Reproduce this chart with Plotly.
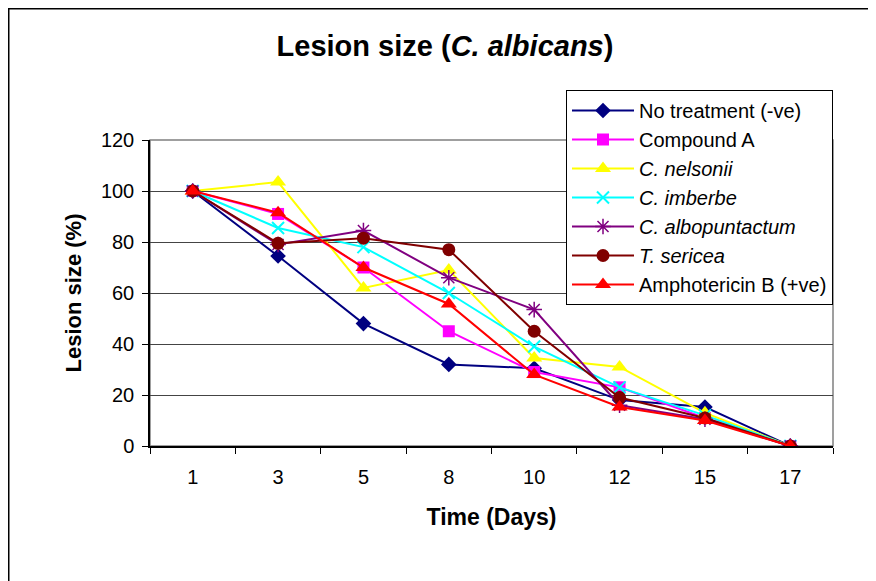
import plotly.graph_objects as go

days = ["1", "3", "5", "8", "10", "12", "15", "17"]
no_treatment = [100, 74.5, 48, 32, 30.5, 18, 15.3, 0]
compound_a = [100, 91, 70, 45, 29, 23, 11, 0]
c_nelsonii = [100, 103.5, 62, 69, 34.5, 31, 13, 0]
c_imberbe = [100, 85.5, 78, 60, 39, 23, 12, 0]
c_albopuntactum = [100, 79, 84.5, 66, 53.5, 16, 10.5, 0]
t_sericea = [100, 79.5, 81.5, 77, 45, 19, 11, 0]
amphotericin_b = [100, 91.5, 70, 55.7, 28, 15.3, 10, 0]

series = [
    ("No treatment (-ve)", no_treatment, "#000080", "diamond", 12, {}),
    ("Compound A", compound_a, "#FF00FF", "square", 12, {}),
    ("<i>C. nelsonii</i>", c_nelsonii, "#FFFF00", "triangle-up", 14, {}),
    ("<i>C. imberbe</i>", c_imberbe, "#00FFFF", "x-thin-open", 12, {"width": 2, "color": "#00FFFF"}),
    ("<i>C. albopuntactum</i>", c_albopuntactum, "#800080", "asterisk-open", 13, {"width": 1.5, "color": "#800080"}),
    ("<i>T. sericea</i>", t_sericea, "#800000", "circle", 13, {}),
    ("Amphotericin B (+ve)", amphotericin_b, "#FF0000", "triangle-up", 14, {}),
]

fig = go.Figure()
for name, vals, color, sym, size, mline in series:
    marker = dict(symbol=sym, size=size, color=color)
    if mline:
        marker["line"] = mline
    fig.add_trace(go.Scatter(
        x=days, y=vals, name=name, mode="lines+markers",
        line=dict(color=color, width=2), marker=marker,
    ))

# page has an 8px body margin; positions below are in figure pixels
L, R, T, B = 142, 825, 132, 438
W, H = 876, 581
pw, ph = R - L, B - T

fig.update_layout(
    width=W, height=H,
    margin=dict(l=L, r=W - R, t=T, b=H - B),
    paper_bgcolor="white", plot_bgcolor="white",
    font=dict(family="Liberation Sans, Arial, sans-serif", color="black"),
    title=dict(text="<b>Lesion size (<i>C. albicans</i>)</b>", x=437 / W, xanchor="center",
               y=1 - 38 / H, yanchor="middle", font=dict(size=29)),
    showlegend=True,
    legend=dict(x=1, y=(B - 82) / ph, xanchor="right", yanchor="top",
                bgcolor="white", bordercolor="black", borderwidth=1,
                font=dict(size=20), itemwidth=62, tracegroupgap=0),
    xaxis=dict(type="category", showgrid=False, showline=True, linecolor="black", linewidth=1.5,
               ticks="outside", ticklen=6, tickcolor="black", tickson="boundaries",
               tickfont=dict(size=20), ticklabelstandoff=12,
               title=dict(text="<b>Time (Days)</b>", font=dict(size=23), standoff=22),
               range=[-0.5, 7.5]),
    yaxis=dict(range=[0, 120], dtick=20, showgrid=True, gridcolor="#444444", gridwidth=1,
               showline=True, linecolor="black", linewidth=1.5, ticks="outside", ticklen=6,
               tickcolor="black", tickfont=dict(size=20), ticklabelstandoff=4, zeroline=False,
               title=dict(text="<b>Lesion size (%)</b>", font=dict(size=22), standoff=13)),
    shapes=[
        dict(type="rect", xref="paper", yref="paper", x0=0, x1=1, y0=0, y1=1,
             line=dict(color="#808080", width=1.5), layer="below"),
        dict(type="rect", xref="paper", yref="paper",
             x0=(0.75 - L) / pw, x1=(W + 10 - L) / pw,
             y0=(B - (H + 10)) / ph, y1=(B - 0.75) / ph,
             line=dict(color="black", width=1.5), fillcolor="rgba(0,0,0,0)", layer="below"),
    ],
)

fig.write_html("out.html")
